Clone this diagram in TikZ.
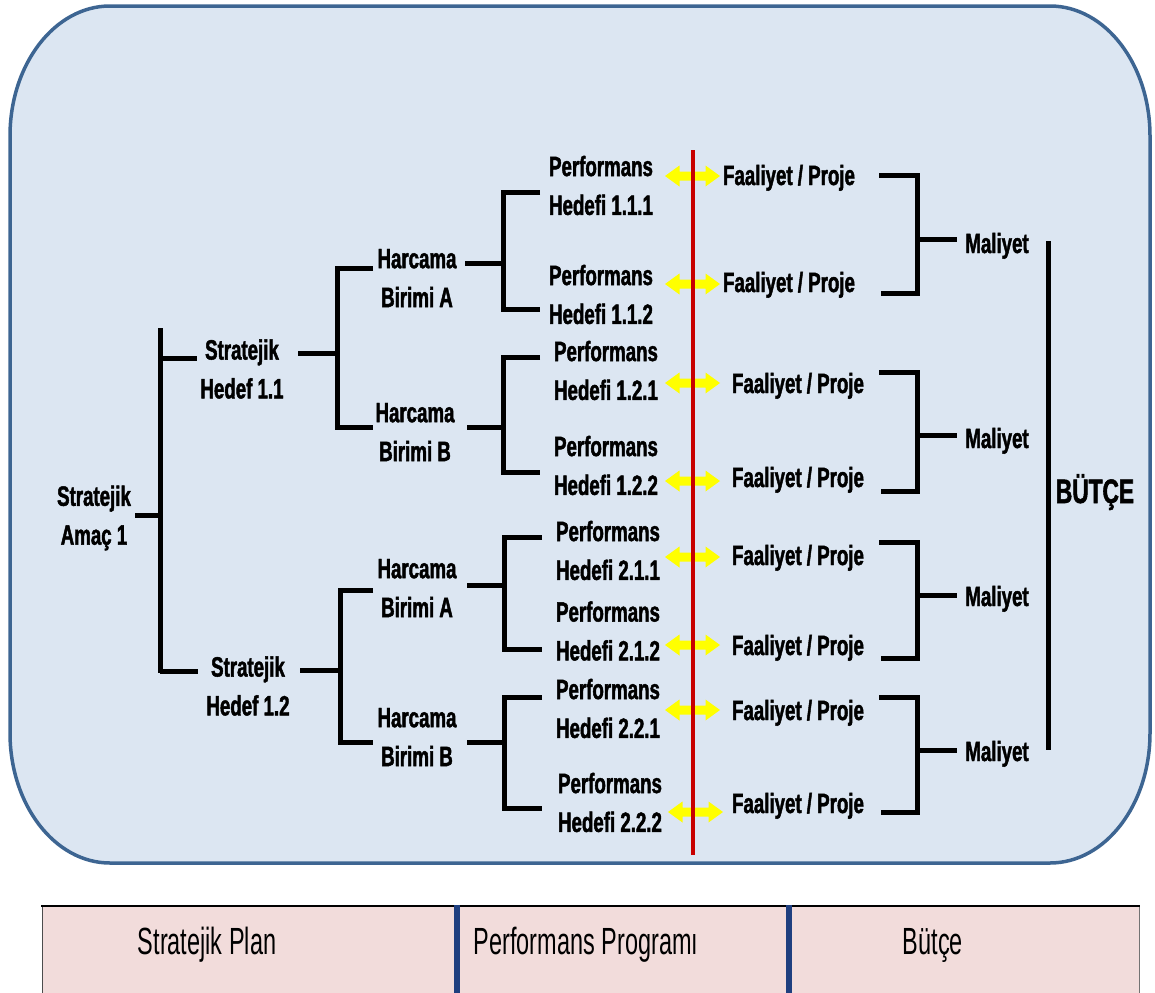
\documentclass[tikz,border=0pt]{standalone}
\usepackage{fontspec}
\newfontfamily\nb{Liberation Sans}[FakeStretch=0.67,FakeBold=1.6]
\newfontfamily\nr{Liberation Sans}[FakeStretch=0.62]
\definecolor{boxfill}{HTML}{DCE6F2}
\definecolor{boxline}{HTML}{3D6592}
\definecolor{tabfill}{HTML}{F2DCDB}
\definecolor{tabdiv}{HTML}{1F3F7F}
\definecolor{redline}{HTML}{C80000}
\definecolor{yel}{HTML}{FFFF00}
\begin{document}
\begin{tikzpicture}[x=1bp,y=-1bp,
  lbl/.style={font=\nb\bfseries\fontsize{28}{39}\selectfont, align=center, inner sep=0pt},
  one/.style={font=\nb\bfseries\fontsize{28}{39}\selectfont, inner sep=0pt, anchor=base},
  tabtxt/.style={font=\nr\fontsize{38}{44}\selectfont, inner sep=0pt, anchor=base},
  tree/.style={line width=5bp, line cap=butt, line join=miter},
  yarrow/.pic={\fill[yel] (-27.5,0) -- (-13,-10.5) -- (-13,-4.5) -- (13,-4.5) -- (13,-10.5)
     -- (27.5,0) -- (13,10.5) -- (13,4.5) -- (-13,4.5) -- (-13,10.5) -- cycle;}]
\useasboundingbox (0,0) rectangle (1155,993);
\begin{scope}
\clip (0,0) rectangle (1155,993);
% main rounded box
\draw[line width=3.5bp, draw=boxline, fill=boxfill]
  (10,136) arc[start angle=180, end angle=270, x radius=100, y radius=130]
  -- (1050,6) arc[start angle=270, end angle=360, x radius=100, y radius=130]
  -- (1150,733) arc[start angle=0, end angle=90, x radius=100, y radius=130]
  -- (110,863) arc[start angle=90, end angle=180, x radius=100, y radius=130]
  -- cycle;
% table
\fill[tabfill] (42,906) rectangle (1139,1000);
\draw[line width=0.8bp, draw=black!70] (42,906) -- (42,1000);
\draw[line width=0.8bp, draw=black!55] (1139,906) -- (1139,1000);
\draw[line width=2bp] (41,906) -- (1140,906);
\draw[line width=6.5bp, draw=tabdiv] (457,905) -- (457,1000);
\draw[line width=6.5bp, draw=tabdiv] (789,905) -- (789,1000);
\node[tabtxt] (tsp) at (207,954) {Stratejik Plan};
\node[tabtxt] (tpp) at (586,954) {Performans Program\i};
\node[tabtxt] (tbu) at (933,954) {Bütçe};
\end{scope}

% labels
\node[lbl] (amac) at (94,518) {Stratejik\\Amaç 1};
\node[lbl] (sh11) at (242,369) {Stratejik\\Hedef 1.1};
\node[lbl] (sh12) at (248,686) {Stratejik\\Hedef 1.2};
\node[lbl] (hA1) at (417,278) {Harcama\\Birimi A};
\node[lbl] (hB1) at (415,432) {Harcama\\Birimi B};
\node[lbl] (hA2) at (417,588) {Harcama\\Birimi A};
\node[lbl] (hB2) at (417,737) {Harcama\\Birimi B};
\node[lbl] (p111) at (601,185.5) {Performans\\Hedefi 1.1.1};
\node[lbl] (p112) at (601,294.5) {Performans\\Hedefi 1.1.2};
\node[lbl] (p121) at (606,370.5) {Performans\\Hedefi 1.2.1};
\node[lbl] (p122) at (606,465.5) {Performans\\Hedefi 1.2.2};
\node[lbl] (p211) at (608,550.5) {Performans\\Hedefi 2.1.1};
\node[lbl] (p212) at (608,631) {Performans\\Hedefi 2.1.2};
\node[lbl] (p221) at (608,708.5) {Performans\\Hedefi 2.2.1};
\node[lbl] (p222) at (610,802.5) {Performans\\Hedefi 2.2.2};

\node[one] (f1) at (789,185) {Faaliyet / Proje};
\node[one] (f2) at (789,292) {Faaliyet / Proje};
\node[one] (f3) at (798,393) {Faaliyet / Proje};
\node[one] (f4) at (798,487) {Faaliyet / Proje};
\node[one] (f5) at (798,565) {Faaliyet / Proje};
\node[one] (f6) at (798,655) {Faaliyet / Proje};
\node[one] (f7) at (798,720) {Faaliyet / Proje};
\node[one] (f8) at (798,813) {Faaliyet / Proje};

\node[one] (m1) at (997,253) {Maliyet};
\node[one] (m2) at (997,448) {Maliyet};
\node[one] (m3) at (997,606) {Maliyet};
\node[one] (m4) at (997,761) {Maliyet};
\node[one, font=\nb\bfseries\fontsize{34}{40}\selectfont] (butce) at (1095,503) {BÜTÇE};

% tree connectors (left side)
\draw[tree] (135,515) -- (160,515);
\draw[tree] (160,328) -- (160,673);
\draw[tree] (160,358) -- (197,358);
\draw[tree] (160,671) -- (198,671);

\draw[tree] (298,353) -- (337,353);
\draw[tree] (373,268) -- (337,268) -- (337,427) -- (373,427);
\draw[tree] (300,670) -- (340,670);
\draw[tree] (373,590) -- (340,590) -- (340,742) -- (373,742);

\draw[tree] (465,263) -- (503,263);
\draw[tree] (540,192) -- (503,192) -- (503,309) -- (540,309);
\draw[tree] (467,427) -- (503,427);
\draw[tree] (540,357) -- (503,357) -- (503,472) -- (540,472);
\draw[tree] (467,585) -- (504,585);
\draw[tree] (542,537) -- (504,537) -- (504,649) -- (542,649);
\draw[tree] (467,742) -- (504,742);
\draw[tree] (542,697) -- (504,697) -- (504,808) -- (542,808);

% right side brackets
\draw[tree] (879,175) -- (917,175) -- (917,293) -- (881,293);
\draw[tree] (917,239) -- (957,239);
\draw[tree] (879,372) -- (917,372) -- (917,491) -- (881,491);
\draw[tree] (917,435) -- (957,435);
\draw[tree] (879,542) -- (917,542) -- (917,658) -- (881,658);
\draw[tree] (917,595) -- (957,595);
\draw[tree] (879,697) -- (917,697) -- (917,812) -- (881,812);
\draw[tree] (917,750) -- (957,750);
\draw[tree] (1048,241) -- (1048,750);

% yellow double arrows
\pic (a1) at (692.5,176) {yarrow};
\pic (a2) at (692.5,284) {yarrow};
\pic (a3) at (692.5,383) {yarrow};
\pic (a4) at (692.5,481) {yarrow};
\pic (a5) at (692.5,557) {yarrow};
\pic (a6) at (692.5,645) {yarrow};
\pic (a7) at (692.5,710) {yarrow};
\pic (a8) at (695.5,812) {yarrow};

% red divider
\coordinate (rtop) at (693,150);
\coordinate (rbot) at (693,855);
\draw[line width=4.5bp, draw=redline] (rtop) -- (rbot);
\end{tikzpicture}
\end{document}
